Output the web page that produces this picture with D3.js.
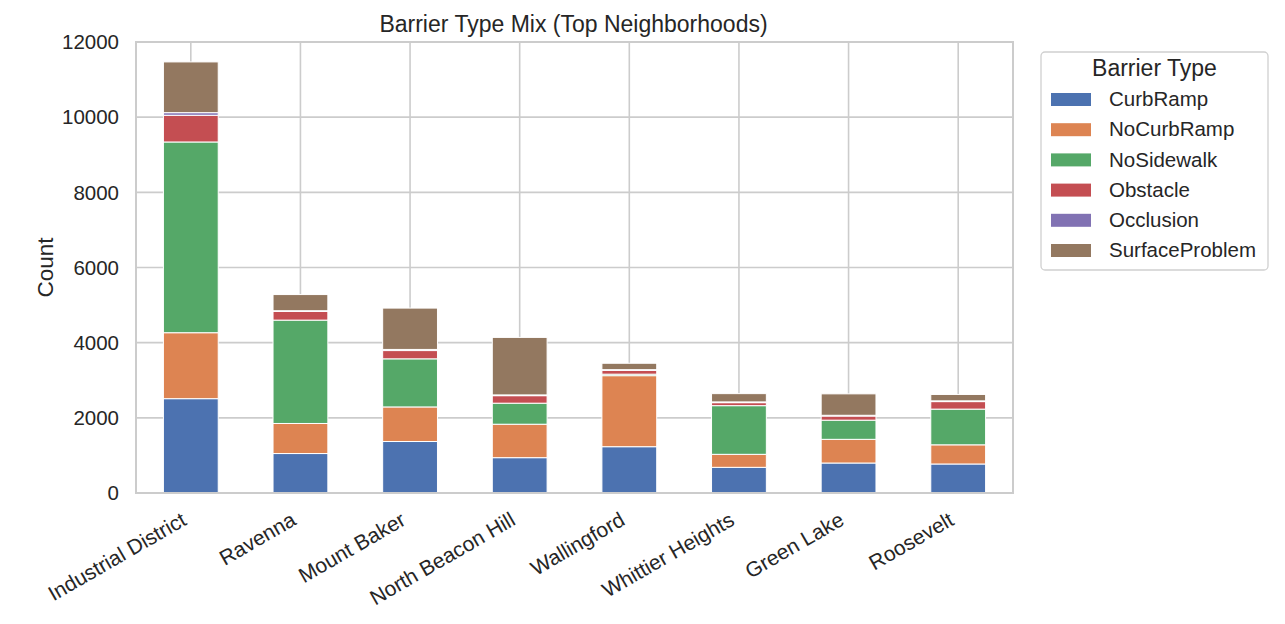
<!DOCTYPE html>
<html><head><meta charset="utf-8">
<script src="https://cdn.jsdelivr.net/npm/d3@7"></script>
<style>body{margin:0;background:#fff;} text{font-family:"Liberation Sans",Arial,sans-serif;fill:#262626;}</style>
</head><body><svg id="c" width="1285" height="624"></svg>
<script>
const neighborhoods = ["Industrial District","Ravenna","Mount Baker","North Beacon Hill","Wallingford","Whittier Heights","Green Lake","Roosevelt"];
const barrierTypes = ["CurbRamp","NoCurbRamp","NoSidewalk","Obstacle","Occlusion","SurfaceProblem"];
const curbRamp       = [2510, 1050, 1370, 940, 1232, 683, 798, 772];
const noCurbRamp     = [1755, 800, 920, 890, 1890, 346, 630, 510];
const noSidewalk     = [5075, 2750, 1280, 560, 40, 1295, 510, 950];
const obstacle       = [710, 230, 220, 200, 100, 80, 110, 200];
const occlusion      = [70, 20, 30, 20, 20, 20, 20, 20];
const surfaceProblem = [1350, 430, 1100, 1530, 170, 220, 570, 170];
const yTicks = [0,2000,4000,6000,8000,10000,12000];
const colors = ["#4c72b0","#dd8452","#55a868","#c44e52","#8172b3","#937860"];

const seriesVals = [curbRamp,noCurbRamp,noSidewalk,obstacle,occlusion,surfaceProblem];
const rows = neighborhoods.map((n,i)=>{const r={name:n}; barrierTypes.forEach((t,j)=>r[t]=seriesVals[j][i]); return r;});
const stack = d3.stack().keys(barrierTypes)(rows);

const svg = d3.select("#c");
const L=136,R=1013,T=42,B=493;
const x = d3.scaleBand().domain(neighborhoods).range([L,R]).paddingInner(0.5).paddingOuter(0.25);
const y = d3.scaleLinear().domain([0,12000]).range([B,T]);
const grid="#cccccc";

// grid
svg.append("g").selectAll("line").data(yTicks).join("line")
 .attr("x1",L).attr("x2",R).attr("y1",d=>y(d)).attr("y2",d=>y(d)).attr("stroke",grid).attr("stroke-width",1.6);
svg.append("g").selectAll("line").data(neighborhoods).join("line")
 .attr("x1",d=>x(d)+x.bandwidth()/2).attr("x2",d=>x(d)+x.bandwidth()/2).attr("y1",T).attr("y2",B).attr("stroke",grid).attr("stroke-width",1.6);

// bars
svg.append("g").selectAll("g").data(stack).join("g").attr("fill",(d,i)=>colors[i])
 .selectAll("rect").data(d=>d).join("rect")
 .attr("x",d=>x(d.data.name)).attr("width",x.bandwidth())
 .attr("y",d=>y(d[1])).attr("height",d=>Math.max(0,y(d[0])-y(d[1])))
 .attr("stroke","#fff").attr("stroke-width",1);

// spines
svg.append("rect").attr("x",L).attr("y",T).attr("width",R-L).attr("height",B-T).attr("fill","none").attr("stroke",grid).attr("stroke-width",2);

// y tick labels
svg.append("g").selectAll("text").data(yTicks).join("text")
 .attr("x",L-17).attr("y",d=>y(d)).attr("dy","0.35em").attr("text-anchor","end").attr("font-size",20.5).text(d=>d);
// x tick labels
svg.append("g").selectAll("text").data(neighborhoods).join("text")
 .attr("text-anchor","end").attr("font-size",21)
 .attr("transform",d=>`translate(${x(d)+x.bandwidth()/2-3},${B+31}) rotate(-30)`).text(d=>d);
// y label
svg.append("text").attr("transform",`translate(53,${(T+B)/2}) rotate(-90)`).attr("text-anchor","middle").attr("font-size",22.5).text("Count");
// title
svg.append("text").attr("x",(L+R)/2-1).attr("y",32).attr("text-anchor","middle").attr("font-size",23).text("Barrier Type Mix (Top Neighborhoods)");

// legend
const lg = svg.append("g");
lg.append("rect").attr("x",1041).attr("y",52).attr("width",227).attr("height",218).attr("rx",4).attr("fill","#fff").attr("stroke","#d0d0d0").attr("stroke-width",1.3);
lg.append("text").attr("x",1154.5).attr("y",76).attr("text-anchor","middle").attr("font-size",23).text("Barrier Type");
const items = lg.selectAll("g.it").data(barrierTypes).join("g").attr("class","it")
 .attr("transform",(d,i)=>`translate(0,${99+i*30.2})`);
items.append("rect").attr("x",1051).attr("y",-6).attr("width",40).attr("height",13).attr("fill",(d,i)=>colors[i]);
items.append("text").attr("x",1109).attr("y",0).attr("dy","0.35em").attr("font-size",20.5).text(d=>d);
</script></body></html>
